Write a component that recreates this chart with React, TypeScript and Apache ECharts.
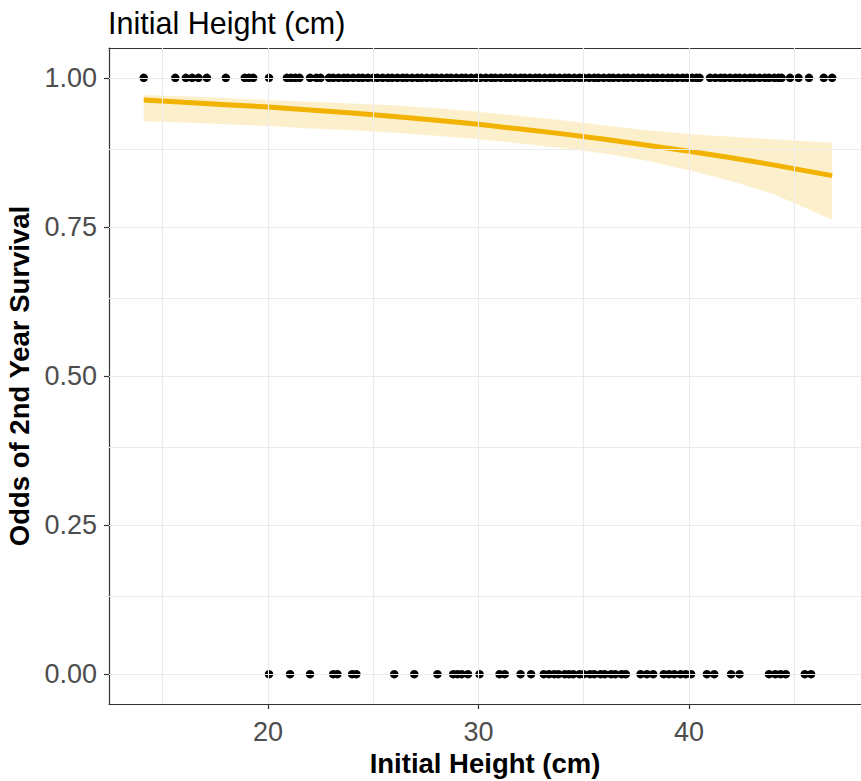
import React, { useEffect, useRef } from "react";
import * as echarts from "echarts";

// Initial heights (cm) of plants that survived (y = 1)
const survivedX = [
  14.1, 15.6, 16.1, 16.4, 16.7, 17.1, 18.0, 18.9, 19.1, 19.3, 20.05,
  20.9, 21.1, 21.3, 21.5, 22.0, 22.3, 22.5,
  22.9, 23.1, 23.35, 23.6, 23.8, 24.05, 24.3, 24.5, 24.75, 25.0, 25.2, 25.45,
  25.7, 25.9, 26.15, 26.4, 26.6, 26.85, 27.1, 27.3, 27.55, 27.8, 28.0, 28.25,
  28.5, 28.7, 28.95, 29.2, 29.4, 29.65, 29.9, 30.1, 30.35, 30.6, 30.8, 31.05,
  31.3, 31.5, 31.75, 32.0, 32.2, 32.45, 32.7, 32.9, 33.15, 33.4, 33.6, 33.85,
  34.1, 34.3, 34.55, 34.8, 35.0, 35.25, 35.5, 35.7, 35.95, 36.2, 36.4, 36.65,
  36.9, 37.1, 37.35, 37.6, 37.8, 38.05, 38.3, 38.5, 38.75, 39.0, 39.2, 39.45,
  39.7, 39.9, 40.15, 40.35, 40.5,
  41.0, 41.25, 41.5, 41.7, 41.95, 42.2, 42.4, 42.65, 42.9, 43.1, 43.35, 43.6,
  43.8, 44.05, 44.25, 44.4,
  44.8, 45.2, 45.7, 46.4, 46.8,
];

// Initial heights (cm) of plants that died (y = 0)
const diedX = [
  20.05, 21.05, 22.0, 23.1, 23.3, 24.0, 24.2, 26.0, 26.95, 28.05,
  28.8, 29.0, 29.2, 29.5, 30.05, 31.0, 31.25, 32.0, 32.5,
  33.1, 33.35, 33.6, 33.8, 34.1, 34.3, 34.5, 34.8, 35.0, 35.3, 35.5, 35.8,
  36.0, 36.3, 36.5, 36.8, 37.0,
  37.7, 38.0, 38.3, 38.8, 39.05, 39.3, 39.6, 39.85, 40.1, 40.85, 41.2,
  42.0, 42.4, 43.8, 44.1, 44.35, 44.6, 45.5, 45.8,
];

// Fitted logistic curve and its confidence band
const fitX = [14.1, 16, 18, 20, 22, 24, 26, 28, 30, 32, 34, 36, 38, 40, 42, 44, 46.8];
const fitY = [0.963, 0.959, 0.955, 0.951, 0.946, 0.941, 0.935, 0.929, 0.922, 0.914, 0.906, 0.897, 0.887, 0.877, 0.866, 0.854, 0.836];
const fitLo = [0.927, 0.925, 0.922, 0.919, 0.915, 0.912, 0.908, 0.903, 0.897, 0.890, 0.882, 0.873, 0.861, 0.845, 0.827, 0.805, 0.762];
const fitHi = [0.971, 0.969, 0.966, 0.963, 0.960, 0.957, 0.954, 0.949, 0.943, 0.936, 0.929, 0.920, 0.912, 0.906, 0.901, 0.897, 0.891];

// Axis ticks and grid lines
const xTicks = [20, 30, 40];
const xMinor = [15, 25, 35, 45];
const yTicks = [0, 0.25, 0.5, 0.75, 1];
const yMinor = [0.125, 0.375, 0.625, 0.875];

const FONT = "'Liberation Sans', Arial, sans-serif";
const LINE_COLOR = "#F2B200";

export default function App() {
  const ref = useRef<HTMLDivElement>(null);

  useEffect(() => {
    if (!ref.current) return;
    const chart = echarts.init(ref.current, null, { renderer: "svg" });

    const xMin = 12.45;
    const xMax = 48.17;

    const gridLines = [
      ...xTicks.map((v) => ({ xAxis: v })),
      ...xMinor.map((v) => ({ xAxis: v })),
      ...yTicks.map((v) => ({ yAxis: v })),
      ...yMinor.map((v) => ({ yAxis: v })),
    ];

    const bandPoints = [
      ...fitX.map((x, i) => [x, fitHi[i]]),
      ...fitX.map((x, i) => [x, fitLo[i]]).reverse(),
    ];

    const dotStyle = { color: "#000000", opacity: 1, borderWidth: 0 };

    chart.setOption({
      animation: false,
      backgroundColor: "#ffffff",
      title: {
        text: "Initial Height (cm)",
        left: 108,
        top: 7,
        padding: 0,
        textStyle: {
          fontFamily: FONT,
          fontSize: 30.5,
          fontWeight: "normal",
          color: "#000000",
        },
      },
      grid: {
        left: 109,
        right: 0,
        top: 48,
        bottom: 77,
        containLabel: false,
        outerBoundsMode: "none",
      },
      xAxis: [
        {
          type: "value",
          min: xMin,
          max: xMax,
          name: "Initial Height (cm)",
          nameLocation: "middle",
          nameGap: 45,
          nameTextStyle: {
            fontFamily: FONT,
            fontSize: 27.5,
            fontWeight: "bold",
            color: "#000000",
          },
          axisLine: { show: true, onZero: false, lineStyle: { color: "#333333", width: 1.2 } },
          axisTick: { show: true, length: 5, customValues: xTicks, lineStyle: { color: "#333333", width: 1.2 } },
          axisLabel: {
            customValues: xTicks,
            margin: 14,
            fontFamily: FONT,
            fontSize: 27,
            color: "#4D4D4D",
          },
          splitLine: { show: false },
        },
        {
          type: "value",
          position: "top",
          min: xMin,
          max: xMax,
          axisLine: { show: true, onZero: false, lineStyle: { color: "#333333", width: 1.2 } },
          axisTick: { show: false },
          axisLabel: { show: false },
          splitLine: { show: false },
        },
      ],
      yAxis: {
        type: "value",
        min: -0.05,
        max: 1.05,
        name: "Odds of 2nd Year Survival",
        nameLocation: "middle",
        nameGap: 65,
        nameTextStyle: {
          fontFamily: FONT,
          fontSize: 27.5,
          fontWeight: "bold",
          color: "#000000",
        },
        axisLine: { show: true, onZero: false, lineStyle: { color: "#333333", width: 1.2 } },
        axisTick: { show: true, length: 5, customValues: yTicks, lineStyle: { color: "#333333", width: 1.2 } },
        axisLabel: {
          customValues: yTicks,
          margin: 12,
          fontFamily: FONT,
          fontSize: 27,
          color: "#4D4D4D",
          formatter: (v: number) => v.toFixed(2),
        },
        splitLine: { show: false },
      },
      series: [
        {
          name: "grid",
          type: "scatter",
          data: [],
          z: 0,
          silent: true,
          markLine: {
            silent: true,
            symbol: ["none", "none"],
            label: { show: false },
            lineStyle: { color: "#EBEBEB", width: 1.1, type: "solid" },
            emphasis: { disabled: true },
            data: gridLines,
          },
        },
        {
          name: "survived",
          type: "scatter",
          symbol: "circle",
          symbolSize: 8.5,
          itemStyle: dotStyle,
          data: survivedX.map((x) => [x, 1]),
          z: 2,
        },
        {
          name: "died",
          type: "scatter",
          symbol: "circle",
          symbolSize: 8.5,
          itemStyle: dotStyle,
          data: diedX.map((x) => [x, 0]),
          z: 2,
        },
        {
          name: "band",
          type: "custom",
          z: 3,
          silent: true,
          data: [0],
          renderItem: (params: any, api: any) => {
            const pts = bandPoints.map((p) => api.coord(p));
            return {
              type: "polygon",
              shape: { points: pts },
              style: { fill: LINE_COLOR, opacity: 0.2 },
            };
          },
        },
        {
          name: "fit",
          type: "line",
          z: 4,
          symbol: "none",
          smooth: false,
          lineStyle: { color: LINE_COLOR, width: 5 },
          data: fitX.map((x, i) => [x, fitY[i]]),
        },
      ],
    });

    return () => chart.dispose();
  }, []);

  return (
    <div
      ref={ref}
      style={{ position: "absolute", left: 0, top: 0, width: 861, height: 781 }}
    />
  );
}
